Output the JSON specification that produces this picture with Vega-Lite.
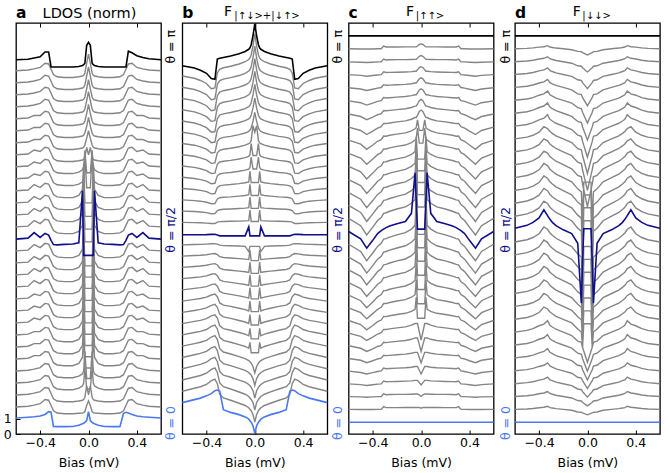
{
  "$schema": "https://vega.github.io/schema/vega-lite/v6.json",
  "description": "LDOS and triplet/singlet pair amplitudes vs bias for theta from 0 to pi, offset waterfall",
  "padding": {"left": 2, "top": 4, "right": 5, "bottom": 2},
  "datasets": {
    "xs": [
      {"i": 1, "x": -0.6}, {"i": 2, "x": -0.5}, {"i": 3, "x": -0.45}, {"i": 4, "x": -0.4}, {"i": 5, "x": -0.36},
      {"i": 6, "x": -0.33}, {"i": 7, "x": -0.31}, {"i": 8, "x": -0.29}, {"i": 9, "x": -0.26}, {"i": 10, "x": -0.2},
      {"i": 11, "x": -0.13}, {"i": 12, "x": -0.08}, {"i": 13, "x": -0.05}, {"i": 14, "x": -0.04}, {"i": 15, "x": -0.03},
      {"i": 16, "x": -0.015}, {"i": 17, "x": 0}, {"i": 18, "x": 0.015}, {"i": 19, "x": 0.03}, {"i": 20, "x": 0.04},
      {"i": 21, "x": 0.05}, {"i": 22, "x": 0.08}, {"i": 23, "x": 0.13}, {"i": 24, "x": 0.2}, {"i": 25, "x": 0.26},
      {"i": 26, "x": 0.29}, {"i": 27, "x": 0.31}, {"i": 28, "x": 0.33}, {"i": 29, "x": 0.36}, {"i": 30, "x": 0.4},
      {"i": 31, "x": 0.45}, {"i": 32, "x": 0.5}, {"i": 33, "x": 0.6}
    ],
    "curves": [
      {"p": "a", "k": 0, "y": [1.07,1.12,1.15,1.2,1.3,1.49,1.45,0.5,0.49,0.49,0.5,0.58,0.68,0.72,0.78,0.9,1.49,0.9,0.78,0.72,0.68,0.58,0.5,0.49,0.49,1.38,1.45,1.4,1.3,1.2,1.15,1.12,1.07]},
      {"p": "a", "k": 1, "y": [1.8,1.85,1.92,2.02,2.3,2.25,1.9,1.55,1.4,1.35,1.35,1.38,1.4,1.43,1.5,1.9,2.2,1.9,1.5,1.43,1.4,1.38,1.35,1.35,1.4,1.55,1.9,2.25,2.3,2.02,1.92,1.85,1.8]},
      {"p": "a", "k": 2, "y": [2.6,2.65,2.72,2.82,3.1,3.05,2.7,2.35,2.2,2.15,2.15,2.2,2.25,2.3,2.45,3.2,2.6,3.2,2.45,2.3,2.25,2.2,2.15,2.15,2.2,2.35,2.7,3.05,3.1,2.82,2.72,2.65,2.6]},
      {"p": "a", "k": 3, "y": [3.4,3.45,3.52,3.62,3.9,3.85,3.5,3.15,3,2.95,2.95,3.05,3.2,3.4,4.4,3,3,3,4.4,3.4,3.2,3.05,2.95,2.95,3,3.15,3.5,3.85,3.9,3.62,3.52,3.45,3.4]},
      {"p": "a", "k": 4, "y": [4.2,4.25,4.32,4.42,4.7,4.65,4.3,3.95,3.8,3.75,3.75,3.85,4,4.2,5.5,3.7,3.7,3.7,5.5,4.2,4,3.85,3.75,3.75,3.8,3.95,4.3,4.65,4.7,4.42,4.32,4.25,4.2]},
      {"p": "a", "k": 5, "y": [5,5.05,5.22,5.22,5.5,5.45,5.1,4.75,4.6,4.55,4.55,4.7,5.1,6.5,4.4,4.4,4.4,4.4,4.4,6.5,5.1,4.7,4.55,4.55,4.6,4.75,5.1,5.45,5.5,5.22,5.22,5.05,5]},
      {"p": "a", "k": 6, "y": [5.8,5.85,6.02,6.02,6.3,6.25,5.9,5.55,5.4,5.35,5.35,5.5,5.9,7.4,5.15,5.15,5.15,5.15,5.15,7.4,5.9,5.5,5.35,5.35,5.4,5.55,5.9,6.25,6.3,6.02,6.02,5.85,5.8]},
      {"p": "a", "k": 7, "y": [6.6,6.65,6.82,6.82,7.1,7.05,6.7,6.35,6.2,6.15,6.15,6.3,6.7,8.3,5.9,5.9,5.9,5.9,5.9,8.3,6.7,6.3,6.15,6.15,6.2,6.35,6.7,7.05,7.1,6.82,6.82,6.65,6.6]},
      {"p": "a", "k": 8, "y": [7.4,7.45,7.72,7.62,7.9,7.85,7.5,7.15,7,6.95,6.95,7.1,7.5,9.2,6.65,6.65,6.65,6.65,6.65,9.2,7.5,7.1,6.95,6.95,7,7.15,7.5,7.85,7.9,7.62,7.72,7.45,7.4]},
      {"p": "a", "k": 9, "y": [8.2,8.25,8.52,8.42,8.7,8.65,8.3,7.95,7.8,7.75,7.75,7.9,8.3,10,7.4,7.4,7.4,7.4,7.4,10,8.3,7.9,7.75,7.75,7.8,7.95,8.3,8.65,8.7,8.42,8.52,8.25,8.2]},
      {"p": "a", "k": 10, "y": [9,9.05,9.32,9.22,9.5,9.45,9.1,8.75,8.6,8.55,8.55,8.7,9.1,10.9,8.15,8.15,8.15,8.15,8.15,10.9,9.1,8.7,8.55,8.55,8.6,8.75,9.1,9.45,9.5,9.22,9.32,9.05,9]},
      {"p": "a", "k": 11, "y": [9.8,9.85,10.22,10.02,10.3,10.25,9.9,9.55,9.4,9.35,9.35,9.5,9.9,11.7,8.9,8.9,8.9,8.9,8.9,11.7,9.9,9.5,9.35,9.35,9.4,9.55,9.9,10.25,10.3,10.02,10.22,9.85,9.8]},
      {"p": "a", "k": 12, "y": [10.6,10.65,11.02,10.82,11.1,11.05,10.7,10.35,10.2,10.15,10.15,10.3,10.7,12.6,9.7,9.7,9.7,9.7,9.7,12.6,10.7,10.3,10.15,10.15,10.2,10.35,10.7,11.05,11.1,10.82,11.02,10.65,10.6]},
      {"p": "a", "k": 13, "y": [11.4,11.45,11.82,11.62,11.9,11.85,11.5,11.15,11,10.95,10.95,11.1,11.5,13.4,10.45,10.45,10.45,10.45,10.45,13.4,11.5,11.1,10.95,10.95,11,11.15,11.5,11.85,11.9,11.62,11.82,11.45,11.4]},
      {"p": "a", "k": 14, "y": [12.2,12.25,12.62,12.42,12.7,12.65,12.3,11.95,11.8,11.75,11.75,11.9,12.3,14.3,11.2,11.2,11.2,11.2,11.2,14.3,12.3,11.9,11.75,11.75,11.8,11.95,12.3,12.65,12.7,12.42,12.62,12.25,12.2]},
      {"p": "a", "k": 15, "y": [12.98,13.05,13.42,13.1,13.36,13.25,12.9,12.62,12.6,12.63,12.66,12.73,16.2,11.9,11.9,11.9,11.9,11.9,11.9,11.9,16.2,12.73,12.66,12.63,12.6,12.62,12.9,13.25,13.36,13.1,13.42,13.05,12.98]},
      {"p": "a", "k": 16, "y": [13.8,13.85,14.22,14.02,14.3,14.25,13.9,13.55,13.4,13.35,13.35,13.5,13.9,15.9,12.8,12.8,12.8,12.8,12.8,15.9,13.9,13.5,13.35,13.35,13.4,13.55,13.9,14.25,14.3,14.02,14.22,13.85,13.8]},
      {"p": "a", "k": 17, "y": [14.6,14.65,15.02,14.82,15.1,15.05,14.7,14.35,14.2,14.15,14.15,14.3,14.7,16.6,13.65,13.65,13.65,13.65,13.65,16.6,14.7,14.3,14.15,14.15,14.2,14.35,14.7,15.05,15.1,14.82,15.02,14.65,14.6]},
      {"p": "a", "k": 18, "y": [15.4,15.45,15.82,15.62,15.9,15.85,15.5,15.15,15,14.95,14.95,15.1,15.5,17.3,14.5,14.5,14.5,14.5,14.5,17.3,15.5,15.1,14.95,14.95,15,15.15,15.5,15.85,15.9,15.62,15.82,15.45,15.4]},
      {"p": "a", "k": 19, "y": [16.2,16.25,16.62,16.42,16.7,16.65,16.3,15.95,15.8,15.75,15.75,15.9,16.3,18,15.4,15.4,15.4,15.4,15.4,18,16.3,15.9,15.75,15.75,15.8,15.95,16.3,16.65,16.7,16.42,16.62,16.25,16.2]},
      {"p": "a", "k": 20, "y": [17,17.05,17.32,17.22,17.5,17.45,17.1,16.75,16.6,16.55,16.55,16.65,16.8,17,18.5,16.4,16.4,16.4,18.5,17,16.8,16.65,16.55,16.55,16.6,16.75,17.1,17.45,17.5,17.22,17.32,17.05,17]},
      {"p": "a", "k": 21, "y": [17.8,17.85,18.12,18.02,18.3,18.25,17.9,17.55,17.4,17.35,17.35,17.45,17.6,17.8,18.9,17.4,17.4,17.4,18.9,17.8,17.6,17.45,17.35,17.35,17.4,17.55,17.9,18.25,18.3,18.02,18.12,17.85,17.8]},
      {"p": "a", "k": 22, "y": [18.6,18.65,18.92,18.82,19.1,19.05,18.7,18.35,18.2,18.15,18.15,18.2,18.25,18.3,18.45,19.1,18.6,19.1,18.45,18.3,18.25,18.2,18.15,18.15,18.2,18.35,18.7,19.05,19.1,18.82,18.92,18.65,18.6]},
      {"p": "a", "k": 23, "y": [19.4,19.45,19.62,19.62,19.9,19.85,19.5,19.15,19,18.95,18.95,19,19.05,19.1,19.25,19.7,20.2,19.7,19.25,19.1,19.05,19,18.95,18.95,19,19.15,19.5,19.85,19.9,19.62,19.62,19.45,19.4]},
      {"p": "a", "k": 24, "y": [20.2,20.25,20.42,20.42,20.7,20.65,20.3,19.95,19.8,19.75,19.75,19.8,19.85,19.9,20.05,20.5,21.1,20.5,20.05,19.9,19.85,19.8,19.75,19.75,19.8,19.95,20.3,20.65,20.7,20.42,20.42,20.25,20.2]},
      {"p": "a", "k": 25, "y": [21,21.05,21.22,21.22,21.5,21.45,21.1,20.75,20.6,20.55,20.55,20.6,20.65,20.7,20.85,21.35,21.95,21.35,20.85,20.7,20.65,20.6,20.55,20.55,20.6,20.75,21.1,21.45,21.5,21.22,21.22,21.05,21]},
      {"p": "a", "k": 26, "y": [21.8,21.85,21.92,22.02,22.3,22.25,21.9,21.55,21.4,21.35,21.35,21.4,21.45,21.5,21.65,22.2,22.8,22.2,21.65,21.5,21.45,21.4,21.35,21.35,21.4,21.55,21.9,22.25,22.3,22.02,21.92,21.85,21.8]},
      {"p": "a", "k": 27, "y": [22.6,22.65,22.72,22.82,23.1,23.05,22.7,22.35,22.2,22.15,22.15,22.2,22.25,22.3,22.45,23,23.6,23,22.45,22.3,22.25,22.2,22.15,22.15,22.2,22.35,22.7,23.05,23.1,22.82,22.72,22.65,22.6]},
      {"p": "a", "k": 28, "y": [23.4,23.45,23.52,23.62,23.9,23.85,23.5,23.15,23,22.95,22.95,23,23.05,23.1,23.25,23.85,24.45,23.85,23.25,23.1,23.05,23,22.95,22.95,23,23.15,23.5,23.85,23.9,23.62,23.52,23.45,23.4]},
      {"p": "a", "k": 29, "y": [24.2,24.25,24.32,24.42,24.7,24.65,24.3,23.95,23.8,23.75,23.75,23.8,23.85,23.9,24.05,24.7,25.3,24.7,24.05,23.9,23.85,23.8,23.75,23.75,23.8,23.95,24.3,24.65,24.7,24.42,24.32,24.25,24.2]},
      {"p": "a", "k": 30, "y": [24.93,24.97,25.05,25.13,25.45,25.45,24.45,24.45,24.45,24.45,24.45,24.48,24.55,24.6,24.7,25.9,26.09,25.9,24.7,24.6,24.55,24.48,24.45,24.45,24.45,24.45,24.45,25.5,25.4,25.2,25.08,25,24.93]},

      {"p": "b", "k": 0, "y": [2.09,2.29,2.39,2.54,2.69,2.89,2.93,2.85,1.62,1.44,1.29,1.14,0.99,0.89,0.79,0.54,0.04,0.54,0.79,0.89,0.99,1.14,1.29,1.44,1.62,2.85,2.93,2.89,2.69,2.54,2.39,2.29,2.09]},
      {"p": "b", "k": 1, "y": [2.85,3.05,3.15,3.3,3.55,3.65,3.35,2.65,2.4,2.25,2.05,1.9,1.75,1.65,1.55,1.3,0.8,1.3,1.55,1.65,1.75,1.9,2.05,2.25,2.4,2.65,3.35,3.65,3.55,3.3,3.15,3.05,2.85]},
      {"p": "b", "k": 2, "y": [3.6,3.8,3.9,4.05,4.3,4.4,4.1,3.4,3.15,3,2.8,2.65,2.5,2.4,2.3,2.1,1.6,2.1,2.3,2.4,2.5,2.65,2.8,3,3.15,3.4,4.1,4.4,4.3,4.05,3.9,3.8,3.6]},
      {"p": "b", "k": 3, "y": [4.35,4.54,4.64,4.78,5.02,5.11,4.83,4.16,3.92,3.78,3.59,3.45,3.3,3.21,3.11,2.88,2.4,2.88,3.11,3.21,3.3,3.45,3.59,3.78,3.92,4.16,4.83,5.11,5.02,4.78,4.64,4.54,4.35]},
      {"p": "b", "k": 4, "y": [5.1,5.28,5.37,5.51,5.74,5.83,5.56,4.92,4.69,4.55,4.37,4.24,4.1,4.01,3.92,3.69,3.23,3.69,3.92,4.01,4.1,4.24,4.37,4.55,4.69,4.92,5.56,5.83,5.74,5.51,5.37,5.28,5.1]},
      {"p": "b", "k": 5, "y": [5.85,6.02,6.11,6.24,6.46,6.55,6.29,5.68,5.46,5.33,5.15,5.02,4.89,4.81,4.72,4.5,4.07,4.5,4.72,4.81,4.89,5.02,5.15,5.33,5.46,5.68,6.29,6.55,6.46,6.24,6.11,6.02,5.85]},
      {"p": "b", "k": 6, "y": [6.6,6.76,6.84,6.96,7.17,7.25,7,6.44,6.24,6.11,5.95,5.83,5.71,6.11,5.41,5.41,5.41,5.41,5.41,6.11,5.71,5.83,5.95,6.11,6.24,6.44,7,7.25,7.17,6.96,6.84,6.76,6.6]},
      {"p": "b", "k": 7, "y": [7.35,7.5,7.57,7.68,7.87,7.94,7.72,7.2,7.02,6.91,6.76,6.65,6.54,7.04,6.34,6.34,6.34,6.34,6.34,7.04,6.54,6.65,6.76,6.91,7.02,7.2,7.72,7.94,7.87,7.68,7.57,7.5,7.35]},
      {"p": "b", "k": 8, "y": [8.1,8.23,8.3,8.4,8.57,8.64,8.44,7.97,7.8,7.7,7.56,7.46,7.36,7.96,7.26,7.26,7.26,7.26,7.26,7.96,7.36,7.46,7.56,7.7,7.8,7.97,8.44,8.64,8.57,8.4,8.3,8.23,8.1]},
      {"p": "b", "k": 9, "y": [8.85,8.97,9.03,9.12,9.26,9.32,9.15,8.73,8.58,8.5,8.38,8.29,8.2,8.85,8.15,8.15,8.15,8.15,8.15,8.85,8.2,8.29,8.38,8.5,8.58,8.73,9.15,9.32,9.26,9.12,9.03,8.97,8.85]},
      {"p": "b", "k": 10, "y": [9.6,9.7,9.75,9.82,9.95,10,9.85,9.5,9.38,9.3,9.2,9.12,9.05,9.75,9,9,9,9,9,9.75,9.05,9.12,9.2,9.3,9.38,9.5,9.85,10,9.95,9.82,9.75,9.7,9.6]},
      {"p": "b", "k": 11, "y": [10.35,10.43,10.47,10.53,10.64,10.68,10.55,10.27,10.17,10.1,10.02,9.96,9.9,10.6,9.85,9.85,9.85,9.85,9.85,10.6,9.9,9.96,10.02,10.1,10.17,10.27,10.55,10.68,10.64,10.53,10.47,10.43,10.35]},
      {"p": "b", "k": 12, "y": [11.1,11.16,11.19,11.24,11.32,11.35,11.26,11.04,10.96,10.91,10.85,10.81,10.76,11.46,10.7,10.7,10.7,10.7,10.7,11.46,10.76,10.81,10.85,10.91,10.96,11.04,11.26,11.35,11.32,11.24,11.19,11.16,11.1]},
      {"p": "b", "k": 13, "y": [11.85,11.89,11.91,11.94,12,12.02,11.95,11.81,11.76,11.72,11.68,11.65,11.62,12.25,11.55,11.55,11.55,11.55,11.55,12.25,11.62,11.65,11.68,11.72,11.76,11.81,11.95,12.02,12,11.94,11.91,11.89,11.85]},
      {"p": "b", "k": 14, "y": [12.6,12.62,12.63,12.65,12.67,12.68,12.65,12.58,12.55,12.54,12.52,12.5,12.15,12.5,12.5,12.5,12.5,12.5,12.5,12.5,12.15,12.5,12.52,12.54,12.55,12.58,12.65,12.68,12.67,12.65,12.63,12.62,12.6]},
      {"p": "b", "k": 15, "y": [13.27,13.27,13.27,13.28,13.3,13.3,13.25,13.2,13.2,13.2,13.2,13.2,13.8,13.2,13.2,13.2,13.2,13.2,13.2,13.2,13.8,13.2,13.2,13.2,13.2,13.2,13.25,13.3,13.3,13.28,13.27,13.27,13.27]},
      {"p": "b", "k": 16, "y": [14.1,14.08,14.07,14.05,14.02,14.02,14.12,14.15,14.16,14.17,14.18,14.2,14.21,14.91,14.16,14.16,14.16,14.16,14.16,14.91,14.21,14.2,14.18,14.17,14.16,14.15,14.12,14.02,14.02,14.05,14.07,14.08,14.1]},
      {"p": "b", "k": 17, "y": [14.85,14.82,14.79,14.75,14.67,14.68,14.89,14.94,14.97,14.99,15.02,15.05,15.08,15.78,15.03,15.03,15.03,15.03,15.03,15.78,15.08,15.05,15.02,14.99,14.97,14.94,14.89,14.68,14.67,14.75,14.79,14.82,14.85]},
      {"p": "b", "k": 18, "y": [15.6,15.55,15.51,15.44,15.34,15.35,15.66,15.74,15.77,15.8,15.85,15.89,15.94,16.64,15.89,15.89,15.89,15.89,15.89,16.64,15.94,15.89,15.85,15.8,15.77,15.74,15.66,15.35,15.34,15.44,15.51,15.55,15.6]},
      {"p": "b", "k": 19, "y": [16.35,16.29,16.23,16.15,16,16.02,16.43,16.53,16.58,16.62,16.68,16.74,16.8,17.5,16.75,16.75,16.75,16.75,16.75,17.5,16.8,16.74,16.68,16.62,16.58,16.53,16.43,16.02,16,16.15,16.23,16.29,16.35]},
      {"p": "b", "k": 20, "y": [17.1,17.02,16.95,16.85,16.67,16.7,17.2,17.32,17.38,17.42,17.5,17.58,17.65,17.75,18.45,17.65,17.65,17.65,18.45,17.75,17.65,17.58,17.5,17.42,17.38,17.32,17.2,16.7,16.67,16.85,16.95,17.02,17.1]},
      {"p": "b", "k": 21, "y": [17.85,17.76,17.67,17.55,17.35,17.38,17.97,18.12,18.17,18.23,18.32,18.41,18.5,18.6,19.35,18.55,18.55,18.55,19.35,18.6,18.5,18.41,18.32,18.23,18.17,18.12,17.97,17.38,17.35,17.55,17.67,17.76,17.85]},
      {"p": "b", "k": 22, "y": [18.6,18.5,18.4,18.26,18.03,18.06,18.73,18.9,18.97,19.04,19.14,19.24,19.34,19.4,19.54,20.54,20.1,20.54,19.54,19.4,19.34,19.24,19.14,19.04,18.97,18.9,18.73,18.06,18.03,18.26,18.4,18.5,18.6]},
      {"p": "b", "k": 23, "y": [19.35,19.24,19.13,18.98,18.72,18.76,19.5,19.68,19.76,19.83,19.94,20.05,20.16,20.24,20.39,20.83,21.42,20.83,20.39,20.24,20.16,20.05,19.94,19.83,19.76,19.68,19.5,18.76,18.72,18.98,19.13,19.24,19.35]},
      {"p": "b", "k": 24, "y": [20.1,19.98,19.86,19.7,19.41,19.45,20.26,20.46,20.55,20.63,20.75,20.87,20.99,21.07,21.23,21.72,22.37,21.72,21.23,21.07,20.99,20.87,20.75,20.63,20.55,20.46,20.26,19.45,19.41,19.7,19.86,19.98,20.1]},
      {"p": "b", "k": 25, "y": [20.85,20.72,20.59,20.41,20.11,20.15,21.02,21.24,21.33,21.42,21.55,21.68,21.81,21.89,22.07,22.59,23.29,22.59,22.07,21.89,21.81,21.68,21.55,21.42,21.33,21.24,21.02,20.15,20.11,20.41,20.59,20.72,20.85]},
      {"p": "b", "k": 26, "y": [21.6,21.46,21.33,21.14,20.83,20.87,21.78,22.01,22.1,22.19,22.33,22.46,22.6,22.69,22.87,23.42,24.15,23.42,22.87,22.69,22.6,22.46,22.33,22.19,22.1,22.01,21.78,20.87,20.83,21.14,21.33,21.46,21.6]},
      {"p": "b", "k": 27, "y": [22.35,22.21,22.06,21.87,21.54,21.59,22.54,22.78,22.87,22.97,23.11,23.25,23.4,23.49,23.68,24.25,25.01,24.25,23.68,23.49,23.4,23.25,23.11,22.97,22.87,22.78,22.54,21.59,21.54,21.87,22.06,22.21,22.35]},
      {"p": "b", "k": 28, "y": [23.1,22.95,22.81,22.61,22.27,22.32,23.3,23.54,23.64,23.74,23.88,24.03,24.18,24.28,24.47,25.06,25.84,25.06,24.47,24.28,24.18,24.03,23.88,23.74,23.64,23.54,23.3,22.32,22.27,22.61,22.81,22.95,23.1]},
      {"p": "b", "k": 29, "y": [23.85,23.7,23.55,23.35,23,23.05,24.05,24.3,24.4,24.5,24.65,24.8,24.95,25.05,25.25,25.85,26.65,25.85,25.25,25.05,24.95,24.8,24.65,24.5,24.4,24.3,24.05,23.05,23,23.35,23.55,23.7,23.85]},
      {"p": "b", "k": 30, "y": [24.53,24.38,24.23,24.03,23.68,23.63,24.98,25.03,25.08,25.18,25.33,25.48,25.63,25.73,25.93,26.53,27.33,26.53,25.93,25.73,25.63,25.48,25.33,25.18,25.08,25.03,24.98,23.63,23.68,24.03,24.23,24.38,24.53]},

      {"p": "c", "k": 0, "y": [0.78,0.78,0.78,0.78,0.78,0.78,0.78,0.78,0.78,0.78,0.78,0.78,0.78,0.78,0.78,0.78,0.78,0.78,0.78,0.78,0.78,0.78,0.78,0.78,0.78,0.78,0.78,0.78,0.78,0.78,0.78,0.78,0.78]},
      {"p": "c", "k": 1, "y": [1.64,1.63,1.63,1.63,1.64,1.64,1.82,1.76,1.76,1.76,1.77,1.77,1.77,1.77,1.77,1.77,1.72,1.77,1.77,1.77,1.77,1.77,1.77,1.76,1.76,1.76,1.82,1.64,1.64,1.63,1.63,1.63,1.64]},
      {"p": "c", "k": 2, "y": [2.49,2.47,2.45,2.47,2.49,2.5,2.68,2.62,2.63,2.64,2.64,2.65,2.66,2.66,2.66,2.61,2.51,2.61,2.66,2.66,2.66,2.65,2.64,2.64,2.63,2.62,2.68,2.5,2.49,2.47,2.45,2.47,2.49]},
      {"p": "c", "k": 3, "y": [3.34,3.29,3.23,3.28,3.32,3.34,3.53,3.48,3.49,3.5,3.52,3.54,3.57,3.57,3.57,3.42,3.27,3.42,3.57,3.57,3.57,3.54,3.52,3.5,3.49,3.48,3.53,3.34,3.32,3.28,3.23,3.29,3.34]},
      {"p": "c", "k": 4, "y": [4.19,4.1,4,4.09,4.16,4.2,4.39,4.35,4.36,4.39,4.41,4.45,4.5,4.5,4.5,4.25,4,4.25,4.5,4.5,4.5,4.45,4.41,4.39,4.36,4.35,4.39,4.2,4.16,4.09,4,4.1,4.19]},
      {"p": "c", "k": 5, "y": [5.03,4.91,4.75,4.88,5,5.05,5.25,5.22,5.24,5.28,5.32,5.38,5.44,5.44,5.44,5.09,4.74,5.09,5.44,5.44,5.44,5.38,5.32,5.28,5.24,5.22,5.25,5.05,5,4.88,4.75,4.91,5.03]},
      {"p": "c", "k": 6, "y": [5.88,5.71,5.5,5.67,5.83,5.9,6.11,6.09,6.12,6.17,6.23,6.31,6.4,6.4,6.4,5.95,5.5,5.95,6.4,6.4,6.4,6.31,6.23,6.17,6.12,6.09,6.11,5.9,5.83,5.67,5.5,5.71,5.88]},
      {"p": "c", "k": 7, "y": [6.72,6.5,6.23,6.46,6.66,6.75,6.97,6.96,7,7.07,7.14,7.25,7.36,7.36,7.36,6.81,6.26,6.81,7.36,7.36,7.36,7.25,7.14,7.07,7,6.96,6.97,6.75,6.66,6.46,6.23,6.5,6.72]},
      {"p": "c", "k": 8, "y": [7.56,7.29,6.94,7.23,7.48,7.59,7.83,7.82,7.88,7.96,8.04,8.17,8.31,9.11,7.71,7.71,7.71,7.71,7.71,9.11,8.31,8.17,8.04,7.96,7.88,7.82,7.83,7.59,7.48,7.23,6.94,7.29,7.56]},
      {"p": "c", "k": 9, "y": [8.4,8.08,7.67,8.02,8.31,8.44,8.69,8.69,8.76,8.86,8.95,9.11,9.28,10.28,8.68,8.68,8.68,8.68,8.68,10.28,9.28,9.11,8.95,8.86,8.76,8.69,8.69,8.44,8.31,8.02,7.67,8.08,8.4]},
      {"p": "c", "k": 10, "y": [9.25,8.88,8.41,8.8,9.14,9.29,9.55,9.56,9.64,9.75,9.86,10.04,10.23,11.43,9.63,9.63,9.63,9.63,9.63,11.43,10.23,10.04,9.86,9.75,9.64,9.56,9.55,9.29,9.14,8.8,8.41,8.88,9.25]},
      {"p": "c", "k": 11, "y": [10.09,9.69,9.17,9.6,9.98,10.14,10.41,10.43,10.52,10.64,10.77,10.97,11.18,12.58,10.58,10.58,10.58,10.58,10.58,12.58,11.18,10.97,10.77,10.64,10.52,10.43,10.41,10.14,9.98,9.6,9.17,9.69,10.09]},
      {"p": "c", "k": 12, "y": [10.94,10.5,9.94,10.41,10.82,11,11.27,11.3,11.39,11.53,11.66,11.88,12.11,13.71,11.51,11.51,11.51,11.51,11.51,13.71,12.11,11.88,11.66,11.53,11.39,11.3,11.27,11,10.82,10.41,9.94,10.5,10.94]},
      {"p": "c", "k": 13, "y": [11.79,11.32,10.72,11.22,11.65,11.84,12.12,12.16,12.25,12.39,12.54,12.77,13.01,14.81,12.41,12.41,12.41,12.41,12.41,14.81,13.01,12.77,12.54,12.39,12.25,12.16,12.12,11.84,11.65,11.22,10.72,11.32,11.79]},
      {"p": "c", "k": 14, "y": [12.64,12.16,11.54,12.06,12.5,12.7,12.98,13.02,13.12,13.27,13.41,13.65,13.9,15.9,13.3,13.3,13.3,13.3,13.3,15.9,13.9,13.65,13.41,13.27,13.12,13.02,12.98,12.7,12.5,12.06,11.54,12.16,12.64]},
      {"p": "c", "k": 15, "y": [13.49,13,12.38,12.9,13.35,13.55,13.65,13.75,13.85,14,14.15,14.7,17.4,15.5,13.65,13.65,13.65,13.65,13.65,15.5,17.4,14.7,14.15,14,13.85,13.75,13.65,13.55,13.35,12.9,12.38,13,13.49]},
      {"p": "c", "k": 16, "y": [14.36,13.88,13.26,13.78,14.22,14.42,14.7,14.74,14.84,14.99,15.13,15.37,15.62,17.62,15.12,15.12,15.12,15.12,15.12,17.62,15.62,15.37,15.13,14.99,14.84,14.74,14.7,14.42,14.22,13.78,13.26,13.88,14.36]},
      {"p": "c", "k": 17, "y": [15.23,14.76,14.16,14.66,15.09,15.28,15.56,15.6,15.69,15.83,15.98,16.21,16.45,18.25,15.95,15.95,15.95,15.95,15.95,18.25,16.45,16.21,15.98,15.83,15.69,15.6,15.56,15.28,15.09,14.66,14.16,14.76,15.23]},
      {"p": "c", "k": 18, "y": [16.08,15.64,15.08,15.55,15.96,16.14,16.41,16.44,16.53,16.67,16.8,17.02,17.25,18.75,16.75,16.75,16.75,16.75,16.75,18.75,17.25,17.02,16.8,16.67,16.53,16.44,16.41,16.14,15.96,15.55,15.08,15.64,16.08]},
      {"p": "c", "k": 19, "y": [16.95,16.55,16.03,16.46,16.84,17,17.27,17.29,17.38,17.5,17.63,17.83,18.04,19.24,17.54,17.54,17.54,17.54,17.54,19.24,18.04,17.83,17.63,17.5,17.38,17.29,17.27,17,16.84,16.46,16.03,16.55,16.95]},
      {"p": "c", "k": 20, "y": [17.83,17.46,16.99,17.38,17.72,17.87,18.13,18.14,18.22,18.33,18.44,18.62,18.81,19.81,18.31,18.31,18.31,18.31,18.31,19.81,18.81,18.62,18.44,18.33,18.22,18.14,18.13,17.87,17.72,17.38,16.99,17.46,17.83]},
      {"p": "c", "k": 21, "y": [18.7,18.38,17.97,18.32,18.61,18.74,18.99,18.99,19.06,19.16,19.25,19.41,19.58,19.68,20.38,19.38,19.38,19.38,20.38,19.68,19.58,19.41,19.25,19.16,19.06,18.99,18.99,18.74,18.61,18.32,17.97,18.38,18.7]},
      {"p": "c", "k": 22, "y": [19.58,19.31,18.96,19.25,19.5,19.61,19.85,19.84,19.9,19.98,20.06,20.19,20.33,20.43,20.93,20.23,20.23,20.23,20.93,20.43,20.33,20.19,20.06,19.98,19.9,19.84,19.85,19.61,19.5,19.25,18.96,19.31,19.58]},
      {"p": "c", "k": 23, "y": [20.44,20.22,19.95,20.18,20.38,20.47,20.69,20.68,20.72,20.79,20.86,20.97,21.08,21.08,21.23,21.48,21.58,21.48,21.23,21.08,21.08,20.97,20.86,20.79,20.72,20.68,20.69,20.47,20.38,20.18,19.95,20.22,20.44]},
      {"p": "c", "k": 24, "y": [21.32,21.15,20.94,21.11,21.27,21.34,21.55,21.53,21.56,21.61,21.67,21.75,21.84,21.84,21.97,22.2,22.29,22.2,21.97,21.84,21.84,21.75,21.67,21.61,21.56,21.53,21.55,21.34,21.27,21.11,20.94,21.15,21.32]},
      {"p": "c", "k": 25, "y": [22.19,22.07,21.91,22.04,22.16,22.21,22.41,22.38,22.4,22.44,22.48,22.54,22.6,22.6,22.72,22.92,23,22.92,22.72,22.6,22.6,22.54,22.48,22.44,22.4,22.38,22.41,22.21,22.16,22.04,21.91,22.07,22.19]},
      {"p": "c", "k": 26, "y": [23.07,22.98,22.88,22.97,23.04,23.08,23.27,23.23,23.24,23.27,23.29,23.33,23.38,23.38,23.49,23.66,23.73,23.66,23.49,23.38,23.38,23.33,23.29,23.27,23.24,23.23,23.27,23.08,23.04,22.97,22.88,22.98,23.07]},
      {"p": "c", "k": 27, "y": [23.94,23.89,23.83,23.88,23.92,23.94,24.13,24.08,24.09,24.1,24.12,24.14,24.17,24.17,24.26,24.41,24.47,24.41,24.26,24.17,24.17,24.14,24.12,24.1,24.09,24.08,24.13,23.94,23.92,23.88,23.83,23.89,23.94]},
      {"p": "c", "k": 28, "y": [24.79,24.77,24.75,24.77,24.79,24.8,24.98,24.92,24.93,24.94,24.94,24.95,24.96,24.96,25.04,25.16,25.21,25.16,25.04,24.96,24.96,24.95,24.94,24.94,24.93,24.92,24.98,24.8,24.79,24.77,24.75,24.77,24.79]},
      {"p": "c", "k": 29, "y": [25.66,25.65,25.65,25.65,25.66,25.66,25.84,25.78,25.78,25.78,25.79,25.79,25.79,25.79,25.85,25.95,25.99,25.95,25.85,25.79,25.79,25.79,25.79,25.78,25.78,25.78,25.84,25.66,25.66,25.65,25.65,25.65,25.66]},
      {"p": "c", "k": 30, "y": [26.52,26.52,26.52,26.52,26.52,26.52,26.52,26.52,26.52,26.52,26.52,26.52,26.52,26.52,26.52,26.52,26.52,26.52,26.52,26.52,26.52,26.52,26.52,26.52,26.52,26.52,26.52,26.52,26.52,26.52,26.52,26.52,26.52]},

      {"p": "d", "k": 0, "y": [0.78,0.78,0.78,0.78,0.78,0.78,0.78,0.78,0.78,0.78,0.78,0.78,0.78,0.78,0.78,0.78,0.78,0.78,0.78,0.78,0.78,0.78,0.78,0.78,0.78,0.78,0.78,0.78,0.78,0.78,0.78,0.78,0.78]},
      {"p": "d", "k": 1, "y": [1.64,1.67,1.7,1.75,1.78,1.85,1.76,1.73,1.69,1.64,1.58,1.47,1.45,1.4,1.37,1.32,1.28,1.32,1.37,1.4,1.45,1.47,1.58,1.64,1.69,1.73,1.76,1.85,1.78,1.75,1.7,1.67,1.64]},
      {"p": "d", "k": 2, "y": [2.5,2.55,2.6,2.68,2.73,2.83,2.7,2.65,2.58,2.5,2.4,2.23,2.2,2.11,2.05,1.96,1.87,1.96,2.05,2.11,2.2,2.23,2.4,2.5,2.58,2.65,2.7,2.83,2.73,2.68,2.6,2.55,2.5]},
      {"p": "d", "k": 3, "y": [3.35,3.42,3.48,3.59,3.66,3.79,3.61,3.55,3.46,3.35,3.22,3,2.95,2.82,2.73,2.59,2.46,2.59,2.73,2.82,2.95,3,3.22,3.35,3.46,3.55,3.61,3.79,3.66,3.59,3.48,3.42,3.35]},
      {"p": "d", "k": 4, "y": [4.21,4.29,4.37,4.5,4.58,4.74,4.53,4.45,4.34,4.21,4.05,3.78,3.73,3.55,3.42,3.22,3.03,3.22,3.42,3.55,3.73,3.78,4.05,4.21,4.34,4.45,4.53,4.74,4.58,4.5,4.37,4.29,4.21]},
      {"p": "d", "k": 5, "y": [5.07,5.16,5.25,5.41,5.5,5.69,5.44,5.35,5.22,5.07,4.89,4.58,4.52,4.28,4.11,3.85,3.6,3.85,4.11,4.28,4.52,4.58,4.89,5.07,5.22,5.35,5.44,5.69,5.5,5.41,5.25,5.16,5.07]},
      {"p": "d", "k": 6, "y": [5.93,6.03,6.14,6.31,6.41,6.62,6.34,6.24,6.1,5.93,5.72,5.38,5.31,5.03,4.82,4.5,4.19,4.5,4.82,5.03,5.31,5.38,5.72,5.93,6.1,6.24,6.34,6.62,6.41,6.31,6.14,6.03,5.93]},
      {"p": "d", "k": 7, "y": [6.79,6.9,7.02,7.21,7.32,7.55,7.24,7.13,6.98,6.79,6.56,6.19,6.11,5.78,5.53,5.15,4.78,5.15,5.53,5.78,6.11,6.19,6.56,6.79,6.98,7.13,7.24,7.55,7.32,7.21,7.02,6.9,6.79]},
      {"p": "d", "k": 8, "y": [7.64,7.76,7.88,8.09,8.45,8.33,8.13,8.01,7.84,7.64,7.4,6.99,6.79,5.79,7.34,7.34,7.34,7.34,7.34,5.79,6.79,6.99,7.4,7.64,7.84,8.01,8.13,8.33,8.45,8.09,7.88,7.76,7.64]},
      {"p": "d", "k": 9, "y": [8.5,8.63,8.76,8.97,9.36,9.23,9.02,8.89,8.72,8.5,8.24,7.81,7.61,6.31,8.2,8.2,8.2,8.2,8.2,6.31,7.61,7.81,8.24,8.5,8.72,8.89,9.02,9.23,9.36,8.97,8.76,8.63,8.5]},
      {"p": "d", "k": 10, "y": [9.36,9.5,9.63,9.86,10.26,10.13,9.9,9.77,9.59,9.36,9.09,8.64,8.44,6.84,9.06,9.06,9.06,9.06,9.06,6.84,8.44,8.64,9.09,9.36,9.59,9.77,9.9,10.13,10.26,9.86,9.63,9.5,9.36]},
      {"p": "d", "k": 11, "y": [10.22,10.36,10.5,10.74,11.16,11.02,10.78,10.64,10.45,10.22,9.94,9.47,9.27,7.37,9.92,9.92,9.92,9.92,9.92,7.37,9.27,9.47,9.94,10.22,10.45,10.64,10.78,11.02,11.16,10.74,10.5,10.36,10.22]},
      {"p": "d", "k": 12, "y": [11.08,11.22,11.37,11.61,12.05,11.9,11.66,11.51,11.32,11.08,10.79,10.31,10.11,7.91,10.78,10.78,10.78,10.78,10.78,7.91,10.11,10.31,10.79,11.08,11.32,11.51,11.66,11.9,12.05,11.61,11.37,11.22,11.08]},
      {"p": "d", "k": 13, "y": [11.93,12.08,12.23,12.47,12.92,12.77,12.52,12.37,12.18,11.93,11.63,11.14,10.94,8.44,11.63,11.63,11.63,11.63,11.63,8.44,10.94,11.14,11.63,11.93,12.18,12.37,12.52,12.77,12.92,12.47,12.23,12.08,11.93]},
      {"p": "d", "k": 14, "y": [12.79,12.94,13.09,13.34,13.79,13.64,13.39,13.24,13.04,12.79,12.49,11.99,11.79,8.99,12.49,12.49,12.49,12.49,12.49,8.99,11.79,11.99,12.49,12.79,13.04,13.24,13.39,13.64,13.79,13.34,13.09,12.94,12.79]},
      {"p": "d", "k": 15, "y": [13.71,13.9,14.1,14.4,14.93,14.55,14.3,14.1,13.88,13.6,13.35,12.7,8.71,11.5,13.67,13.67,13.67,13.67,13.67,11.5,8.71,12.7,13.35,13.6,13.88,14.1,14.3,14.55,14.93,14.4,14.1,13.9,13.71]},
      {"p": "d", "k": 16, "y": [14.51,14.66,14.81,15.06,15.51,15.36,15.11,14.96,14.76,14.51,14.21,13.71,13.51,10.71,14.21,14.21,14.21,14.21,14.21,10.71,13.51,13.71,14.21,14.51,14.76,14.96,15.11,15.36,15.51,15.06,14.81,14.66,14.51]},
      {"p": "d", "k": 17, "y": [15.37,15.52,15.67,15.91,16.36,16.21,15.96,15.81,15.62,15.37,15.07,14.58,14.38,11.88,15.07,15.07,15.07,15.07,15.07,11.88,14.38,14.58,15.07,15.37,15.62,15.81,15.96,16.21,16.36,15.91,15.67,15.52,15.37]},
      {"p": "d", "k": 18, "y": [16.22,16.36,16.51,16.75,17.19,17.04,16.8,16.65,16.46,16.22,15.93,15.45,15.25,13.05,15.92,15.92,15.92,15.92,15.92,13.05,15.25,15.45,15.93,16.22,16.46,16.65,16.8,17.04,17.19,16.75,16.51,16.36,16.22]},
      {"p": "d", "k": 19, "y": [17.08,17.22,17.36,17.6,18.02,17.88,17.64,17.5,17.31,17.08,16.8,16.33,16.13,14.23,16.78,16.78,16.78,16.78,16.78,14.23,16.13,16.33,16.8,17.08,17.31,17.5,17.64,17.88,18.02,17.6,17.36,17.22,17.08]},
      {"p": "d", "k": 20, "y": [17.94,18.08,18.21,18.44,18.84,18.71,18.48,18.35,18.17,17.94,17.67,17.22,17.13,16.66,16.28,15.71,15.14,15.71,16.28,16.66,17.13,17.22,17.67,17.94,18.17,18.35,18.48,18.71,18.84,18.44,18.21,18.08,17.94]},
      {"p": "d", "k": 21, "y": [18.8,18.93,19.06,19.27,19.66,19.53,19.32,19.19,19.02,18.8,18.54,18.11,18.02,17.6,17.26,16.75,16.24,16.75,17.26,17.6,18.02,18.11,18.54,18.8,19.02,19.19,19.32,19.53,19.66,19.27,19.06,18.93,18.8]},
      {"p": "d", "k": 22, "y": [19.66,19.78,19.9,20.11,20.47,20.35,20.15,20.03,19.86,19.66,19.42,19.01,18.93,18.55,18.25,17.8,17.35,17.8,18.25,18.55,18.93,19.01,19.42,19.66,19.86,20.03,20.15,20.35,20.47,20.11,19.9,19.78,19.66]},
      {"p": "d", "k": 23, "y": [20.51,20.62,20.74,20.93,21.04,21.27,20.96,20.85,20.7,20.51,20.28,19.91,19.83,19.49,19.23,18.84,18.45,18.84,19.23,19.49,19.83,19.91,20.28,20.51,20.7,20.85,20.96,21.27,21.04,20.93,20.74,20.62,20.51]},
      {"p": "d", "k": 24, "y": [21.37,21.47,21.58,21.75,21.85,22.06,21.78,21.68,21.54,21.37,21.16,20.82,20.75,20.46,20.24,19.91,19.58,19.91,20.24,20.46,20.75,20.82,21.16,21.37,21.54,21.68,21.78,22.06,21.85,21.75,21.58,21.47,21.37]},
      {"p": "d", "k": 25, "y": [22.23,22.32,22.41,22.57,22.66,22.85,22.6,22.51,22.38,22.23,22.05,21.74,21.68,21.43,21.25,20.98,20.71,20.98,21.25,21.43,21.68,21.74,22.05,22.23,22.38,22.51,22.6,22.85,22.66,22.57,22.41,22.32,22.23]},
      {"p": "d", "k": 26, "y": [23.09,23.17,23.25,23.38,23.46,23.62,23.41,23.33,23.22,23.09,22.93,22.66,22.61,22.42,22.28,22.07,21.86,22.07,22.28,22.42,22.61,22.66,22.93,23.09,23.22,23.33,23.41,23.62,23.46,23.38,23.25,23.17,23.09]},
      {"p": "d", "k": 27, "y": [23.95,24.02,24.08,24.19,24.26,24.39,24.21,24.15,24.06,23.95,23.82,23.6,23.55,23.41,23.31,23.16,23.01,23.16,23.31,23.41,23.55,23.6,23.82,23.95,24.06,24.15,24.21,24.39,24.26,24.19,24.08,24.02,23.95]},
      {"p": "d", "k": 28, "y": [24.8,24.85,24.9,24.98,25.03,25.13,25,24.95,24.88,24.8,24.7,24.53,24.5,24.4,24.33,24.22,24.12,24.22,24.33,24.4,24.5,24.53,24.7,24.8,24.88,24.95,25,25.13,25.03,24.98,24.9,24.85,24.8]},
      {"p": "d", "k": 29, "y": [25.66,25.69,25.72,25.77,25.8,25.87,25.78,25.75,25.71,25.66,25.6,25.49,25.47,25.41,25.37,25.31,25.25,25.31,25.37,25.41,25.47,25.49,25.6,25.66,25.71,25.75,25.78,25.87,25.8,25.77,25.72,25.69,25.66]},
      {"p": "d", "k": 30, "y": [26.52,26.52,26.52,26.52,26.52,26.52,26.52,26.52,26.52,26.52,26.52,26.52,26.52,26.52,26.52,26.52,26.52,26.52,26.52,26.52,26.52,26.52,26.52,26.52,26.52,26.52,26.52,26.52,26.52,26.52,26.52,26.52,26.52]}
    ]
  },
  "data": {"name": "curves"},
  "transform": [
    {"flatten": ["y"]},
    {"window": [{"op": "row_number", "as": "i"}], "groupby": ["p", "k"]},
    {"lookup": "i", "from": {"data": {"name": "xs"}, "key": "i", "fields": ["x"]}}
  ],
  "spacing": 21.3,
  "bounds": "flush",
  "hconcat": [
    {
      "width": 145, "height": 411,
      "transform": [{"filter": "datum.p == 'a'"}],
      "layer": [
        {"layer": [
          {"transform": [{"filter": "datum.k != 0 && datum.k != 15 && datum.k != 30"}],
           "mark": {"type": "line", "color": "#858585", "strokeWidth": 1.4},
           "encoding": {
             "x": {"field": "x", "type": "quantitative", "scale": {"domain": [-0.6, 0.6], "nice": false},
                   "axis": {"values": [-0.4, 0, 0.4], "format": ".1f", "title": "Bias (mV)", "labelPadding": 6, "titlePadding": 8}},
             "y": {"field": "y", "type": "quantitative", "scale": {"domain": [0, 27.38], "nice": false},
                   "axis": {"values": [0, 1], "format": "d", "title": null, "labelPadding": 8.7}},
             "detail": {"field": "k", "type": "nominal"}}},
          {"transform": [{"filter": "datum.k == 0"}], "mark": {"type": "line", "color": "#4a78f0", "strokeWidth": 1.6},
           "encoding": {"x": {"field": "x", "type": "quantitative"}, "y": {"field": "y", "type": "quantitative"}}},
          {"transform": [{"filter": "datum.k == 15"}], "mark": {"type": "line", "color": "#10108a", "strokeWidth": 1.6},
           "encoding": {"x": {"field": "x", "type": "quantitative"}, "y": {"field": "y", "type": "quantitative"}}},
          {"transform": [{"filter": "datum.k == 30"}], "mark": {"type": "line", "color": "black", "strokeWidth": 1.6},
           "encoding": {"x": {"field": "x", "type": "quantitative"}, "y": {"field": "y", "type": "quantitative"}}},
          {"data": {"values": [{}]}, "mark": {"type": "text", "text": "a", "fontSize": 15.5, "fontWeight": "bold", "align": "left", "baseline": "alphabetic"},
           "encoding": {"x": {"datum": -0.6}, "y": {"datum": 27.71}}},
          {"data": {"values": [{}]}, "mark": {"type": "text", "text": "LDOS (norm)", "fontSize": 14.5, "align": "center", "baseline": "alphabetic"},
           "encoding": {"x": {"datum": 0.008}, "y": {"datum": 27.71}}},
          {"data": {"values": [{}]}, "mark": {"type": "text", "text": "θ = π", "angle": 270, "fontSize": 12.5, "align": "center", "baseline": "middle", "color": "black"},
           "encoding": {"x": {"datum": 0.685}, "y": {"datum": 25.8}}},
          {"data": {"values": [{}]}, "mark": {"type": "text", "text": "θ = π/2", "angle": 270, "fontSize": 12.5, "align": "center", "baseline": "middle", "color": "#10108a"},
           "encoding": {"x": {"datum": 0.685}, "y": {"datum": 13.6}}},
          {"data": {"values": [{}]}, "mark": {"type": "text", "text": "θ = 0", "angle": 270, "fontSize": 12.5, "align": "center", "baseline": "middle", "color": "#4a78f0"},
           "encoding": {"x": {"datum": 0.685}, "y": {"datum": 0.73}}}
        ]},
        {"data": {"values": [{"x": 0}]}, "mark": {"type": "point", "opacity": 0},
         "encoding": {"x": {"field": "x", "type": "quantitative", "scale": {"domain": [-0.6, 0.6], "nice": false},
                            "axis": {"orient": "top", "values": [-0.4, 0, 0.4], "labels": false, "title": null}}}}
      ],
      "resolve": {"axis": {"x": "independent"}}
    },
    {
      "width": 145, "height": 411,
      "transform": [{"filter": "datum.p == 'b'"}],
      "layer": [
        {"layer": [
          {"transform": [{"filter": "datum.k != 0 && datum.k != 15 && datum.k != 30"}],
           "mark": {"type": "line", "color": "#858585", "strokeWidth": 1.4},
           "encoding": {
             "x": {"field": "x", "type": "quantitative", "scale": {"domain": [-0.6, 0.6], "nice": false},
                   "axis": {"values": [-0.4, 0, 0.4], "format": ".1f", "title": "Bias (mV)", "labelPadding": 6, "titlePadding": 8}},
             "y": {"field": "y", "type": "quantitative", "scale": {"domain": [0, 27.38], "nice": false}, "axis": null},
             "detail": {"field": "k", "type": "nominal"}}},
          {"transform": [{"filter": "datum.k == 0"}], "mark": {"type": "line", "color": "#4a78f0", "strokeWidth": 1.6},
           "encoding": {"x": {"field": "x", "type": "quantitative"}, "y": {"field": "y", "type": "quantitative"}}},
          {"transform": [{"filter": "datum.k == 15"}], "mark": {"type": "line", "color": "#10108a", "strokeWidth": 1.6},
           "encoding": {"x": {"field": "x", "type": "quantitative"}, "y": {"field": "y", "type": "quantitative"}}},
          {"transform": [{"filter": "datum.k == 30"}], "mark": {"type": "line", "color": "black", "strokeWidth": 1.6},
           "encoding": {"x": {"field": "x", "type": "quantitative"}, "y": {"field": "y", "type": "quantitative"}}},
          {"data": {"values": [{}]}, "mark": {"type": "text", "text": "b", "fontSize": 15.5, "fontWeight": "bold", "align": "left", "baseline": "alphabetic"},
           "encoding": {"x": {"datum": -0.6}, "y": {"datum": 27.71}}},
          {"data": {"values": [{}]}, "mark": {"type": "text", "text": "F", "fontSize": 14, "align": "left", "baseline": "alphabetic"},
           "encoding": {"x": {"datum": -0.255}, "y": {"datum": 27.82}}},
          {"data": {"values": [{}]}, "mark": {"type": "text", "text": "|↑↓>+|↓↑>", "fontSize": 10, "align": "left", "baseline": "alphabetic"},
           "encoding": {"x": {"datum": -0.17}, "y": {"datum": 27.62}}},
          {"data": {"values": [{}]}, "mark": {"type": "text", "text": "θ = π", "angle": 270, "fontSize": 12.5, "align": "center", "baseline": "middle", "color": "black"},
           "encoding": {"x": {"datum": 0.685}, "y": {"datum": 25.8}}},
          {"data": {"values": [{}]}, "mark": {"type": "text", "text": "θ = π/2", "angle": 270, "fontSize": 12.5, "align": "center", "baseline": "middle", "color": "#10108a"},
           "encoding": {"x": {"datum": 0.685}, "y": {"datum": 13.6}}},
          {"data": {"values": [{}]}, "mark": {"type": "text", "text": "θ = 0", "angle": 270, "fontSize": 12.5, "align": "center", "baseline": "middle", "color": "#4a78f0"},
           "encoding": {"x": {"datum": 0.685}, "y": {"datum": 0.73}}}
        ]},
        {"data": {"values": [{"x": 0}]}, "mark": {"type": "point", "opacity": 0},
         "encoding": {"x": {"field": "x", "type": "quantitative", "scale": {"domain": [-0.6, 0.6], "nice": false},
                            "axis": {"orient": "top", "values": [-0.4, 0, 0.4], "labels": false, "title": null}}}}
      ],
      "resolve": {"axis": {"x": "independent"}}
    },
    {
      "width": 145, "height": 411,
      "transform": [{"filter": "datum.p == 'c'"}],
      "layer": [
        {"layer": [
          {"transform": [{"filter": "datum.k != 0 && datum.k != 15 && datum.k != 30"}],
           "mark": {"type": "line", "color": "#858585", "strokeWidth": 1.4},
           "encoding": {
             "x": {"field": "x", "type": "quantitative", "scale": {"domain": [-0.6, 0.6], "nice": false},
                   "axis": {"values": [-0.4, 0, 0.4], "format": ".1f", "title": "Bias (mV)", "labelPadding": 6, "titlePadding": 8}},
             "y": {"field": "y", "type": "quantitative", "scale": {"domain": [0, 27.38], "nice": false}, "axis": null},
             "detail": {"field": "k", "type": "nominal"}}},
          {"transform": [{"filter": "datum.k == 0"}], "mark": {"type": "line", "color": "#4a78f0", "strokeWidth": 1.6},
           "encoding": {"x": {"field": "x", "type": "quantitative"}, "y": {"field": "y", "type": "quantitative"}}},
          {"transform": [{"filter": "datum.k == 15"}], "mark": {"type": "line", "color": "#10108a", "strokeWidth": 1.6},
           "encoding": {"x": {"field": "x", "type": "quantitative"}, "y": {"field": "y", "type": "quantitative"}}},
          {"transform": [{"filter": "datum.k == 30"}], "mark": {"type": "line", "color": "black", "strokeWidth": 1.6},
           "encoding": {"x": {"field": "x", "type": "quantitative"}, "y": {"field": "y", "type": "quantitative"}}},
          {"data": {"values": [{}]}, "mark": {"type": "text", "text": "c", "fontSize": 15.5, "fontWeight": "bold", "align": "left", "baseline": "alphabetic"},
           "encoding": {"x": {"datum": -0.6}, "y": {"datum": 27.71}}},
          {"data": {"values": [{}]}, "mark": {"type": "text", "text": "F", "fontSize": 14, "align": "left", "baseline": "alphabetic"},
           "encoding": {"x": {"datum": -0.125}, "y": {"datum": 27.82}}},
          {"data": {"values": [{}]}, "mark": {"type": "text", "text": "|↑↑>", "fontSize": 10, "align": "left", "baseline": "alphabetic"},
           "encoding": {"x": {"datum": -0.045}, "y": {"datum": 27.62}}},
          {"data": {"values": [{}]}, "mark": {"type": "text", "text": "θ = π", "angle": 270, "fontSize": 12.5, "align": "center", "baseline": "middle", "color": "black"},
           "encoding": {"x": {"datum": 0.7}, "y": {"datum": 25.8}}},
          {"data": {"values": [{}]}, "mark": {"type": "text", "text": "θ = π/2", "angle": 270, "fontSize": 12.5, "align": "center", "baseline": "middle", "color": "#10108a"},
           "encoding": {"x": {"datum": 0.7}, "y": {"datum": 13.6}}},
          {"data": {"values": [{}]}, "mark": {"type": "text", "text": "θ = 0", "angle": 270, "fontSize": 12.5, "align": "center", "baseline": "middle", "color": "#4a78f0"},
           "encoding": {"x": {"datum": 0.7}, "y": {"datum": 0.73}}}
        ]},
        {"data": {"values": [{"x": 0}]}, "mark": {"type": "point", "opacity": 0},
         "encoding": {"x": {"field": "x", "type": "quantitative", "scale": {"domain": [-0.6, 0.6], "nice": false},
                            "axis": {"orient": "top", "values": [-0.4, 0, 0.4], "labels": false, "title": null}}}}
      ],
      "resolve": {"axis": {"x": "independent"}}
    },
    {
      "width": 145, "height": 411,
      "transform": [{"filter": "datum.p == 'd'"}],
      "layer": [
        {"layer": [
          {"transform": [{"filter": "datum.k != 0 && datum.k != 15 && datum.k != 30"}],
           "mark": {"type": "line", "color": "#858585", "strokeWidth": 1.4},
           "encoding": {
             "x": {"field": "x", "type": "quantitative", "scale": {"domain": [-0.6, 0.6], "nice": false},
                   "axis": {"values": [-0.4, 0, 0.4], "format": ".1f", "title": "Bias (mV)", "labelPadding": 6, "titlePadding": 8}},
             "y": {"field": "y", "type": "quantitative", "scale": {"domain": [0, 27.38], "nice": false}, "axis": null},
             "detail": {"field": "k", "type": "nominal"}}},
          {"transform": [{"filter": "datum.k == 0"}], "mark": {"type": "line", "color": "#4a78f0", "strokeWidth": 1.6},
           "encoding": {"x": {"field": "x", "type": "quantitative"}, "y": {"field": "y", "type": "quantitative"}}},
          {"transform": [{"filter": "datum.k == 15"}], "mark": {"type": "line", "color": "#10108a", "strokeWidth": 1.6},
           "encoding": {"x": {"field": "x", "type": "quantitative"}, "y": {"field": "y", "type": "quantitative"}}},
          {"transform": [{"filter": "datum.k == 30"}], "mark": {"type": "line", "color": "black", "strokeWidth": 1.6},
           "encoding": {"x": {"field": "x", "type": "quantitative"}, "y": {"field": "y", "type": "quantitative"}}},
          {"data": {"values": [{}]}, "mark": {"type": "text", "text": "d", "fontSize": 15.5, "fontWeight": "bold", "align": "left", "baseline": "alphabetic"},
           "encoding": {"x": {"datum": -0.6}, "y": {"datum": 27.71}}},
          {"data": {"values": [{}]}, "mark": {"type": "text", "text": "F", "fontSize": 14, "align": "left", "baseline": "alphabetic"},
           "encoding": {"x": {"datum": -0.122}, "y": {"datum": 27.82}}},
          {"data": {"values": [{}]}, "mark": {"type": "text", "text": "|↓↓>", "fontSize": 10, "align": "left", "baseline": "alphabetic"},
           "encoding": {"x": {"datum": -0.042}, "y": {"datum": 27.62}}}
        ]},
        {"data": {"values": [{"x": 0}]}, "mark": {"type": "point", "opacity": 0},
         "encoding": {"x": {"field": "x", "type": "quantitative", "scale": {"domain": [-0.6, 0.6], "nice": false},
                            "axis": {"orient": "top", "values": [-0.4, 0, 0.4], "labels": false, "title": null}}}}
      ],
      "resolve": {"axis": {"x": "independent"}}
    }
  ],
  "config": {
    "font": "DejaVu Sans",
    "view": {"stroke": "black", "strokeWidth": 1.3},
    "axis": {"domain": false, "grid": false, "tickColor": "black", "tickSize": -4, "tickWidth": 1,
             "labelColor": "black", "labelFontSize": 12.5, "titleColor": "black", "titleFontSize": 12.5, "titleFontWeight": "normal"},
    "text": {"color": "black"}
  }
}
